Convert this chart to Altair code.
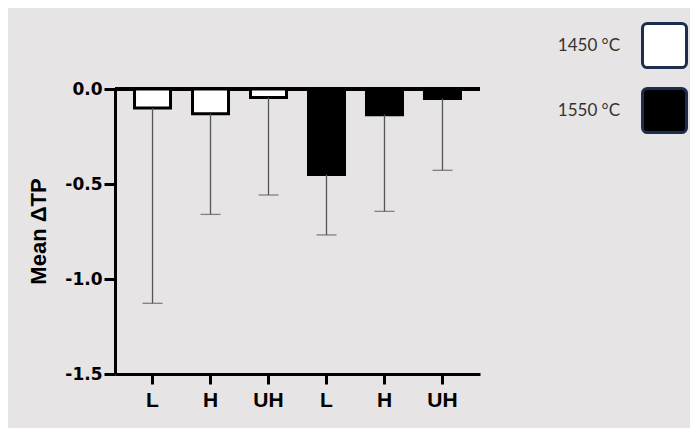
import altair as alt
import pandas as pd

# ---- data ----
groups = ["1450 °C", "1450 °C", "1450 °C", "1550 °C", "1550 °C", "1550 °C"]
levels = ["L", "H", "UH", "L", "H", "UH"]
means = [-0.10, -0.13, -0.045, -0.45, -0.135, -0.05]
lower = [-1.128, -0.66, -0.558, -0.768, -0.644, -0.428]
y_ticks = [-1.5, -1.0, -0.5, 0.0]
series = ["1450 °C", "1550 °C"]

keys = [f"{g}|{l}" for g, l in zip(groups, levels)]
df = pd.DataFrame({"key": keys, "group": groups, "level": levels,
                   "mean": means, "lower": lower})

BG = "#e6e4e4"
FONT = "Liberation Sans"
rounded = ("M -0.78 -1 H 0.78 A 0.22 0.22 0 0 1 1 -0.78 V 0.78 "
           "A 0.22 0.22 0 0 1 0.78 1 H -0.78 A 0.22 0.22 0 0 1 -1 0.78 "
           "V -0.78 A 0.22 0.22 0 0 1 -0.78 -1 Z")

x_enc = alt.X("key:N", sort=keys,
              scale=alt.Scale(paddingInner=0, paddingOuter=0.147),
              axis=alt.Axis(title=None, labelAngle=0,
                            labelExpr="split(datum.label, '|')[1]",
                            labelFont=FONT, labelFontSize=21, labelFontWeight="bold",
                            labelColor="black", labelPadding=5,
                            domainColor="black", domainWidth=3,
                            tickColor="black", tickWidth=3, tickSize=10,
                            grid=False))
y_scale = alt.Scale(domain=[-1.5, 0], nice=False, zero=False)
y_axis = alt.Axis(title="Mean ΔTP", values=y_ticks,
                  labelExpr="replace(format(datum.value, '.1f'), '\u2212', '-')",
                  labelFont="DejaVu Sans", labelFontSize=17, labelFontWeight="bold",
                  labelColor="black", labelPadding=2,
                  titleFont=FONT, titleFontSize=22, titleFontWeight="bold",
                  titleColor="black", titleAngle=270, titleAlign="center",
                  titleBaseline="middle", titleX=-77, titleY=142,
                  domainColor="black", domainWidth=3,
                  tickColor="black", tickWidth=3, tickSize=11, grid=False)

base = alt.Chart(df)

zero = base.mark_rule(color="black", strokeWidth=3).encode(y=alt.datum(0, scale=y_scale))

bars = base.mark_bar(size=36, stroke="black", strokeWidth=3).encode(
    x=x_enc,
    y=alt.Y("mean:Q", scale=y_scale, axis=y_axis),
    y2=alt.datum(0),
    fill=alt.Fill("group:N",
                  scale=alt.Scale(domain=series, range=["white", "black"]),
                  legend=alt.Legend(title=None, orient="none", legendX=526, legendY=-67,
                                    symbolType=rounded, symbolSize=1936,
                                    symbolStrokeColor="#1c2d4f", symbolStrokeWidth=3,
                                    symbolOpacity=1,
                                    labelAlign="right", labelOffset={"expr": "-68"},
                                    labelFont="Lato", labelFontSize=17,
                                    labelColor="#333333", rowPadding=8,
                                    padding=0)),
)

err = base.mark_rule(color="#555555", strokeWidth=1.3).encode(
    x=alt.X("key:N", sort=keys),
    y=alt.Y("mean:Q"),
    y2="lower:Q",
)

caps = base.mark_tick(color="#555555", thickness=1.3, size=20, orient="horizontal").encode(
    x=alt.X("key:N", sort=keys),
    y=alt.Y("lower:Q"),
)

chart = alt.layer(zero, bars, err, caps).properties(
    width=365, height=285,
    autosize=alt.AutoSizeParams(type="none"),
    padding={"left": 107, "top": 81, "right": 210, "bottom": 54},
    background=BG,
).configure_view(stroke=None)

chart.save("out.html", embed_options={"renderer": "svg", "actions": False})
